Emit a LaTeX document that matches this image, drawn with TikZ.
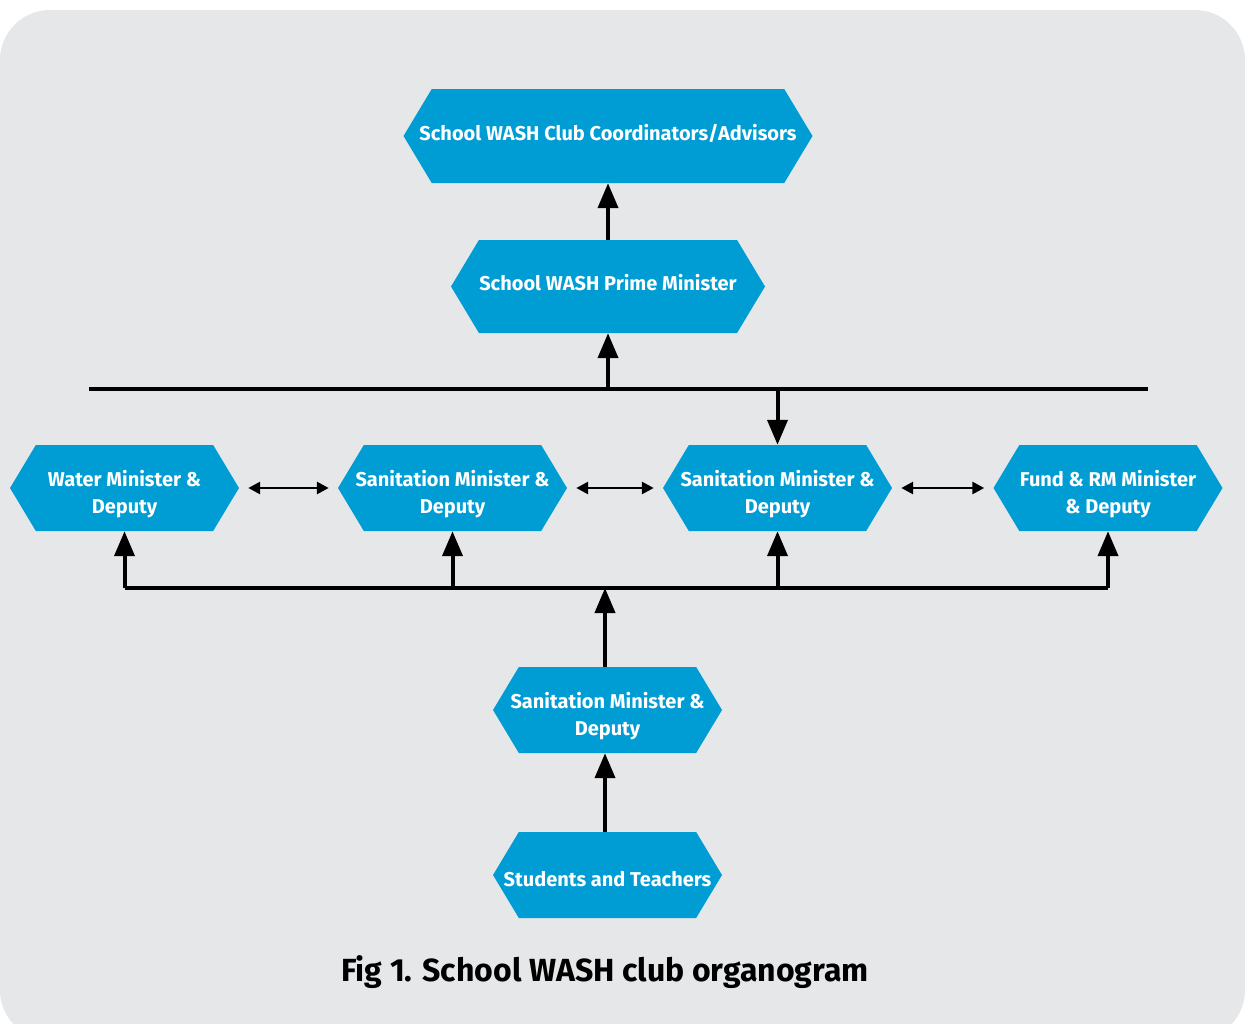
\documentclass[tikz,border=0pt]{standalone}
\usepackage{fontspec}
\setmainfont{Fira Sans}
\usetikzlibrary{shapes.symbols,arrows.meta}

\definecolor{washblue}{RGB}{0,156,212}
\definecolor{panelgray}{RGB}{230,231,233}

\tikzset{
  hexbox/.style={signal, signal to=west and east, signal pointer angle=118,
    fill=washblue, draw=none, text=white, align=center,
    inner ysep=0pt, inner xsep=-17pt,
    minimum width=229pt, minimum height=86pt,
    font=\fontsize{20}{27}\selectfont\bfseries},
  twoline/.style={text height=54pt, text depth=4pt},
  uparrow/.style={line width=4pt, -{Triangle[width=20pt,length=25pt]}},
  sidearrow/.style={line width=2.8pt, {Triangle[width=12pt,length=12pt]}-{Triangle[width=12pt,length=12pt]}},
  busline/.style={line width=3.5pt}
}

\begin{document}
\begin{tikzpicture}[x=1pt, y=-1pt]
  % frame
  \useasboundingbox (0,0) rectangle (1245,1023);
  \clip (0,0) rectangle (1245,1023);
  \fill[white] (0,0) rectangle (1245,1023);
  \fill[panelgray, rounded corners=50pt] (0,10) rectangle (1245,1040);

  % top of the chart
  \node[hexbox, minimum width=409pt, minimum height=94pt, text height=14pt, text depth=6pt] (coord) at (608,136) {School WASH Club Coordinators/Advisors};
  \node[hexbox, minimum width=314pt, minimum height=93pt, text height=14pt, text depth=6pt] (prime) at (608,286.5) {School WASH Prime Minister};

  % ministers
  \node[hexbox, twoline] (water) at (124.5,488) {Water Minister \&\\ Deputy};
  \node[hexbox, twoline] (sanA) at (452.5,488) {Sanitation Minister \&\\ Deputy};
  \node[hexbox, twoline] (sanB) at (777.5,488) {Sanitation Minister \&\\ Deputy};
  \node[hexbox, twoline] (fund) at (1108,488) {Fund \& RM Minister\\ \& Deputy};

  % lower levels
  \node[hexbox, twoline] (sanC) at (607.5,710) {Sanitation Minister \&\\ Deputy};
  \node[hexbox, text height=22pt, text depth=0pt] (stud) at (607.5,875) {Students and Teachers};

  % bus lines
  \coordinate (topL) at (89,389);
  \coordinate (topR) at (1148,389);
  \coordinate (botbus) at (0,588);
  \draw[busline] (topL) -- (topR);
  \draw[busline] (water.south |- botbus) -- (fund.south |- botbus);

  % arrows
  \draw[uparrow] (prime.north) -- (coord.south);
  \draw[uparrow] (prime.south |- topL) -- (prime.south);
  \draw[uparrow] (sanB.north |- topL) -- (sanB.north);
  \foreach \n in {water, sanA, sanB, fund} {
    \draw[uparrow] (\n.south |- botbus) -- (\n.south);
  }
  \draw[uparrow] ([xshift=-2.5pt]sanC.north) -- ([xshift=-2.5pt]sanC.north |- botbus);
  \draw[uparrow] ([xshift=-2.5pt]stud.north) -- ([xshift=-2.5pt]sanC.south);

  % side links
  \draw[sidearrow] ([xshift=9pt]water.east) -- ([xshift=-9pt]sanA.west);
  \draw[sidearrow] ([xshift=9pt]sanA.east) -- ([xshift=-9pt]sanB.west);
  \draw[sidearrow] ([xshift=9pt]sanB.east) -- ([xshift=-9pt]fund.west);

  % caption
  \node[font=\fontsize{32}{38}\selectfont\bfseries] (caption) at (605,972) {Fig 1. School WASH club organogram};
\end{tikzpicture}
\end{document}
